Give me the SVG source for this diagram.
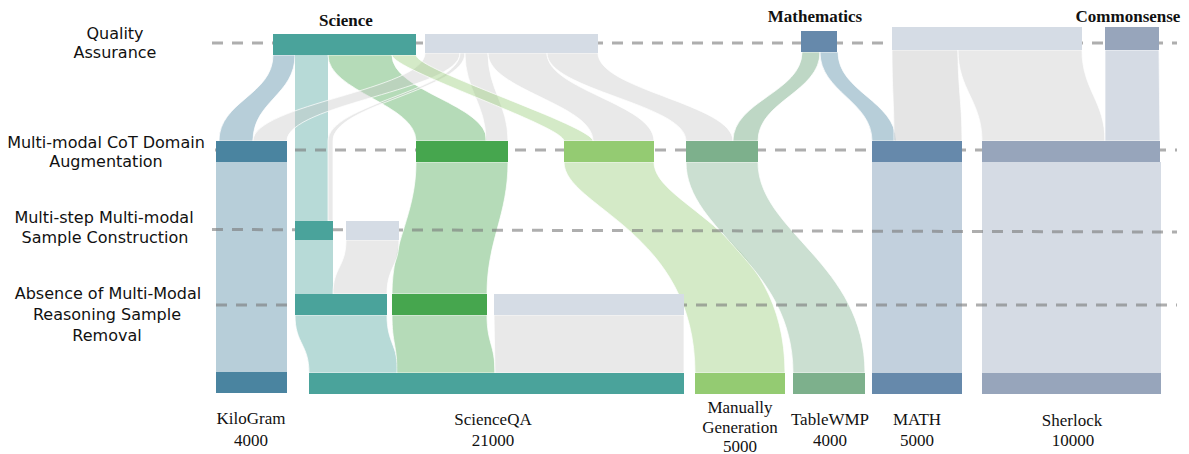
<svg xmlns="http://www.w3.org/2000/svg" width="1189" height="454" viewBox="0 0 1189 454">
<style>
.fl{stroke:#fff;stroke-width:0.8;stroke-opacity:0.9}
.teal{fill:#4aa39b}
.tealf{fill:#4aa39b;fill-opacity:0.4}
.blue{fill:#4a84a0}
.bluef{fill:#4a84a0;fill-opacity:0.4}
.green{fill:#46a64e}
.greenf{fill:#46a64e;fill-opacity:0.4}
.lgreen{fill:#94cb72}
.lgreenf{fill:#94cb72;fill-opacity:0.4}
.tab{fill:#7db08c}
.tabf{fill:#7db08c;fill-opacity:0.4}
.tabf2{fill:#7db08c;fill-opacity:0.5}
.math{fill:#6689ab}
.mathf{fill:#6689ab;fill-opacity:0.4}
.sher{fill:#97a5bb}
.sherf{fill:#97a5bb;fill-opacity:0.4}
.gnode{fill:#d5dce5}
.grayf{fill:#c4c4c4;fill-opacity:0.38}
.grayf2{fill:#bdbdbd;fill-opacity:0.4}
.dash{stroke:#787878;stroke-opacity:0.6;stroke-width:3;stroke-dasharray:11 9;fill:none}
.lab{font-family:"Comic Sans MS","DejaVu Sans",sans-serif;font-size:16px;fill:#111;text-anchor:middle}
.cat{font-family:"Liberation Serif","Times New Roman",serif;font-size:17px;font-weight:bold;fill:#111;text-anchor:middle}
.ds{font-family:"Liberation Serif","Times New Roman",serif;font-size:17px;fill:#111;text-anchor:middle}
</style>

<g id="connectors">
  <path class="fl bluef" d="M273,55 C273,95 219,101 219,141 L253,141 C253,101 295,95 295,55 Z"/>
  <rect class="tealf" x="295" y="55" width="33" height="166"/>
  <path class="fl greenf" d="M328,55 C328,92 416,104 416,141 L487,141 C487,104 392,92 392,55 Z"/>
  <path class="fl grayf" d="M425,53 C425,90 253,104 253,141 L287,141 C287,104 460,90 460,53 Z"/>
  <path class="fl grayf" d="M460,53 C460,90 328,104 328,141 L328,221 L333,221 L333,141 C333,104 465,90 465,53 Z"/>
  <path class="fl grayf" d="M465,53 C465,90 486,104 486,141 L508,141 C508,104 488,90 488,53 Z"/>
  <path class="fl grayf" d="M488,53 C488,90 593,104 593,141 L654,141 C654,104 547,90 547,53 Z"/>
  <path class="fl grayf" d="M547,53 C547,90 686,104 686,141 L733,141 C733,104 598,90 598,53 Z"/>
  <path class="fl lgreenf" d="M392,55 C392,70 564,126 564,141 L593,141 C593,126 416,70 416,55 Z"/>
  <path class="fl tabf2" d="M802,52 C802,92 733,101 733,141 L758,141 C758,101 820,92 820,52 Z"/>
  <path class="fl bluef" d="M820,52 C820,92 872,101 872,141 L896,141 C896,101 838,92 838,52 Z"/>
  <path class="fl grayf2" d="M892,50 C892,90 894,101 894,141 L962,141 C962,101 958,90 958,50 Z"/>
  <path class="fl grayf" d="M958,50 C958,90 982,101 982,141 L1105,141 C1105,101 1082,90 1082,50 Z"/>
  <path class="fl sherf" d="M1105,50 L1105,141 L1160,141 L1159,50 Z"/>
  <rect class="bluef" x="216" y="162" width="71" height="211"/>
  <path class="fl greenf" d="M416,162 C416,216 392,240 392,294 L487,294 C487,240 508,216 508,162 Z"/>
  <path class="fl lgreenf" d="M564,162 C564,207 695,230 695,373 L785,373 C785,230 654,207 654,162 Z"/>
  <path class="fl tabf" d="M686,162 C686,232 793,263 793,373 L865,373 C865,263 758,232 758,162 Z"/>
  <rect class="mathf" x="872" y="162" width="90" height="211"/>
  <rect class="sherf" x="982" y="162" width="179" height="211"/>
  <rect class="tealf" x="295" y="240" width="38" height="54"/>
  <path class="fl grayf" d="M346,240 C346,267 333,267 333,294 L387,294 C387,267 399,267 399,240 Z"/>
  <path class="fl tealf" d="M295,315 C295,344 309,344 309,373 L398,373 C398,344 387,344 387,315 Z"/>
  <path class="fl greenf" d="M392,315 C392,344 397,344 397,373 L495,373 C495,344 487,344 487,315 Z"/>
  <path class="fl grayf" d="M494,315 L495,373 L684,373 L684,315 Z"/>
</g>

<g id="stage-lines">
  <line class="dash" x1="212" y1="43" x2="1177" y2="43"/>
  <line class="dash" x1="215" y1="150" x2="1177" y2="150"/>
  <line class="dash" x1="212" y1="229.5" x2="1177" y2="232"/>
  <line class="dash" x1="216" y1="305" x2="1177" y2="305"/>
</g>

<g id="stage-labels">
  <text class="lab" x="115" y="39">Quality</text>
  <text class="lab" x="115" y="58">Assurance</text>
  <text class="lab" x="106" y="148">Multi-modal CoT Domain</text>
  <text class="lab" x="106" y="167">Augmentation</text>
  <text class="lab" x="104" y="223">Multi-step Multi-modal</text>
  <text class="lab" x="105" y="243">Sample Construction</text>
  <text class="lab" x="108" y="299">Absence of Multi-Modal</text>
  <text class="lab" x="107" y="320">Reasoning Sample</text>
  <text class="lab" x="107" y="341">Removal</text>
</g>

<g id="node-science">
  <rect class="teal" x="273" y="34" width="143" height="21"/>
  <text class="cat" x="346" y="26">Science</text>
</g>
<g id="node-qa-gray1"><rect class="gnode" x="425" y="34" width="173" height="19"/></g>
<g id="node-mathematics">
  <rect class="math" x="801" y="31" width="36" height="21"/>
  <text class="cat" x="815" y="22">Mathematics</text>
</g>
<g id="node-qa-gray2"><rect class="gnode" x="892" y="27" width="190" height="23"/></g>
<g id="node-commonsense">
  <rect class="sher" x="1105" y="27" width="54" height="23"/>
  <text class="cat" x="1128" y="22">Commonsense</text>
</g>

<g id="node-aug-kilogram"><rect class="blue" x="216" y="141" width="71" height="21"/></g>
<g id="node-aug-scienceqa"><rect class="green" x="416" y="141" width="92" height="21"/></g>
<g id="node-aug-manual"><rect class="lgreen" x="564" y="141" width="90" height="21"/></g>
<g id="node-aug-tablewmp"><rect class="tab" x="686" y="141" width="72" height="21"/></g>
<g id="node-aug-math"><rect class="math" x="872" y="141" width="90" height="21"/></g>
<g id="node-aug-sherlock"><rect class="sher" x="982" y="141" width="178" height="21"/></g>

<g id="node-ms-teal"><rect class="teal" x="295" y="221" width="38" height="19"/></g>
<g id="node-ms-gray"><rect class="gnode" x="346" y="221" width="53" height="19"/></g>

<g id="node-rm-teal"><rect class="teal" x="295" y="294" width="92" height="21"/></g>
<g id="node-rm-green"><rect class="green" x="392" y="294" width="95" height="21"/></g>
<g id="node-rm-gray"><rect class="gnode" x="494" y="294" width="190" height="21"/></g>

<g id="node-kilogram">
  <rect class="blue" x="216" y="372" width="71" height="21"/>
  <text class="ds" x="251" y="424">KiloGram</text>
  <text class="ds" x="251" y="446">4000</text>
</g>
<g id="node-scienceqa">
  <rect class="teal" x="309" y="373" width="375" height="21"/>
  <text class="ds" x="493" y="425">ScienceQA</text>
  <text class="ds" x="493" y="446">21000</text>
</g>
<g id="node-manual">
  <rect class="lgreen" x="695" y="373" width="90" height="21"/>
  <text class="ds" x="740" y="413">Manually</text>
  <text class="ds" x="740" y="433">Generation</text>
  <text class="ds" x="740" y="452">5000</text>
</g>
<g id="node-tablewmp">
  <rect class="tab" x="793" y="373" width="72" height="21"/>
  <text class="ds" x="830" y="425">TableWMP</text>
  <text class="ds" x="830" y="446">4000</text>
</g>
<g id="node-math">
  <rect class="math" x="872" y="373" width="90" height="21"/>
  <text class="ds" x="917" y="425">MATH</text>
  <text class="ds" x="917" y="446">5000</text>
</g>
<g id="node-sherlock">
  <rect class="sher" x="982" y="373" width="179" height="21"/>
  <text class="ds" x="1072" y="426">Sherlock</text>
  <text class="ds" x="1073" y="446">10000</text>
</g>
</svg>
